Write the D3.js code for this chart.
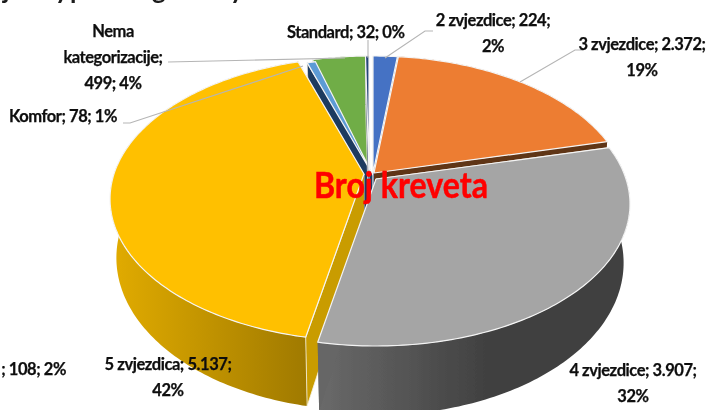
<!DOCTYPE html>
<html>
<head>
<meta charset="utf-8">
<style>
  html, body { margin: 0; padding: 0; background: #fff; overflow: hidden; }
  text { font-family: Lato, "Open Sans", sans-serif; font-weight: 700; }
</style>
<script src="https://cdn.jsdelivr.net/npm/d3@7"></script>
</head>
<body>
<div id="container"></div>
<script>
// data (pie order, clockwise from the top)
let categories = ["2 zvjezdice", "3 zvjezdice", "4 zvjezdice", "5 zvjezdica", "Komfor", "Nema kategorizacije", "Standard"];
let beds = [224, 2372, 3907, 5137, 78, 499, 32];
let chartTitle = "Broj kreveta";

// data label text, one entry per line
let labelLines = [
  ["2 zvjezdice; 224;", "2%"],
  ["3 zvjezdice; 2.372;", "19%"],
  ["4 zvjezdice; 3.907;", "32%"],
  ["5 zvjezdica; 5.137;", "42%"],
  ["Komfor; 78; 1%"],
  ["Nema", "kategorizacije;", "499; 4%"],
  ["Standard; 32; 0%"]
];
// leftover label in the picture, cut by the left edge, belongs to no slice
let orphanLabel = "; 108; 2%";
// pieces of the cropped heading, only the descenders show
let headingGlyphs = ["j", "y", "p", "g", "y"];

// styling, separate from the values
let topColors = ["#4472c4", "#ed7d31", "#a5a5a5", "#ffc000", "#5b9bd5", "#70ad47", "#264478"];
let startFace = ["#2f5597", "#b05a20", "#666666", "#c99c00", "#1f3a5f", "#4e7a30", "#1a2f55"];
let endFace = ["#2f5597", "#5f3416", "#666666", "#c99c00", "#1f3a5f", "#4e7a30", "#1a2f55"];
let sideColors = [
  ["#2f5597", "#2f5597"], ["#b05a20", "#8a4518"], ["#6a6a6a", "#404040"],
  ["#e2ac00", "#a07a00"], ["#1f3a5f", "#1f3a5f"], ["#4e7a30", "#4e7a30"], ["#1a2f55", "#1a2f55"]
];
let offsets = [[2, -2], [3, -2], [5, 4], [-7, -1], [2, 0], [-1, -2], [-2, -2]];
let drawOrder = [5, 4, 6, 0, 1, 3, 2];

// x, y, anchor of each label block, y is the first baseline
let labelPos = [
  [493, 26, "middle"], [642, 50, "middle"], [633, 376, "middle"], [168, 370, "middle"],
  [9, 122, "start"], [113, 37, "middle"], [287, 38, "start"]
];
let leaders = [
  [[433, 31], [425, 31], [385, 58]],
  [[582, 50], [575, 50], [520, 82]],
  [[123, 123], [130, 123], [303, 66]],
  [[168, 62], [345, 58]],
  [[368, 40], [368, 58]]
];
let glyphX = [3, 55, 70, 152, 230];

let w = 717;
let h = 410;
let cx = 371;
let cy = 175;
let tilt = 0.176; // far side of the pie gets smaller
let depth = 57;
let bottomShrink = 0.025; // bottom of the pie is a bit narrower than the top

let svg = d3.select("#container")
  .append("svg")
    .attr("width", w)
    .attr("height", h)
    .style("display", "block")
;

let defs = svg.append("defs");
defs.append("filter").attr("id", "soft")
  .append("feGaussianBlur").attr("stdDeviation", 0.5);

let xScale = d3.scaleLinear().domain([-1, 1]).range([-250, 250]);
let yScale = d3.scaleLinear().domain([-1, 1]).range([137.6, -137.6]);

// unit circle point -> screen, r = 0 is the apex, z = 1 is the bottom of the pie
function project(angle, r, z, off) {
  let X = r * Math.sin(angle);
  let Y = r * Math.cos(angle);
  let persp = 1 + tilt * Y;
  return [
    cx + off[0] + xScale(X) * (1 - z * bottomShrink) / persp,
    cy + off[1] + yScale(Y) / persp + z * depth / persp
  ];
}

let pie = d3.pie().sort(null).value(function (d) { return d; });
let slices = pie(beds);
let line = d3.line();

function rim(d, z, off) {
  let n = Math.max(2, Math.ceil((d.endAngle - d.startAngle) * 60));
  return d3.range(n + 1).map(function (i) {
    return project(d.startAngle + (d.endAngle - d.startAngle) * i / n, 1, z, off);
  });
}

let chart = svg.append("g").attr("filter", "url(#soft)");

drawOrder.forEach(function (i) {
  let d = slices[i];
  let off = offsets[i];
  let g = chart.append("g").attr("class", "slice");

  let top = rim(d, 0, off);
  let bottom = rim(d, 1, off);
  let gradId = "side" + i;
  let grad = defs.append("linearGradient")
    .attr("id", gradId)
    .attr("gradientUnits", "userSpaceOnUse")
    .attr("x1", d3.min(top, function (p) { return p[0]; }))
    .attr("x2", d3.max(top, function (p) { return p[0]; }))
    .attr("y1", 0).attr("y2", 0);
  grad.append("stop").attr("offset", 0).attr("stop-color", sideColors[i][0]);
  grad.append("stop").attr("offset", i === 2 ? 0.55 : 1).attr("stop-color", sideColors[i][1]);

  // outer wall
  g.append("path")
    .attr("d", line(top.concat(bottom.slice().reverse())) + "Z")
    .attr("fill", "url(#" + gradId + ")");

  // cut faces
  let apexTop = project(0, 0, 0, off);
  let apexBottom = project(0, 0, 1, off);
  g.append("path")
    .attr("d", line([apexTop, top[0], bottom[0], apexBottom]) + "Z")
    .attr("fill", startFace[i])
    .attr("stroke", "#f4f1e4").attr("stroke-width", 0.8);
  g.append("path")
    .attr("d", line([apexTop, top[top.length - 1], bottom[bottom.length - 1], apexBottom]) + "Z")
    .attr("fill", endFace[i]);

  // top face
  g.append("path")
    .attr("d", line([apexTop].concat(top)) + "Z")
    .attr("fill", topColors[i])
    .attr("stroke", "#f4f4f4")
    .attr("stroke-width", 1.2)
    .attr("stroke-linejoin", "round");
});

// leader lines
chart.selectAll(".leader").data(leaders).enter()
  .append("path")
    .attr("class", "leader")
    .attr("d", function (d) { return line(d); })
    .attr("fill", "none")
    .attr("stroke", "#b5b5b5")
    .attr("stroke-width", 1.1)
;

// data labels, Lato is wider than the original font so it is pulled in a bit
let labels = chart.selectAll(".label").data(labelLines).enter()
  .append("text")
    .attr("class", "label")
    .attr("font-size", 16.5)
    .attr("letter-spacing", -0.45)
    .attr("fill", "#0d0d0d")
    .attr("stroke", "#0d0d0d")
    .attr("stroke-width", 0.25)
    .attr("text-anchor", function (d, i) { return labelPos[i][2]; })
;
labels.selectAll("tspan").data(function (d, i) {
    return d.map(function (t, k) { return { t: t, k: k, i: i }; });
  }).enter()
  .append("tspan")
    .attr("x", function (d) { return labelPos[d.i][0]; })
    .attr("y", function (d) { return labelPos[d.i][1] + d.k * 26; })
    .text(function (d) { return d.t; })
;

chart.append("text")
  .attr("x", 66).attr("y", 375)
  .attr("text-anchor", "end")
  .attr("font-size", 16.5)
  .attr("letter-spacing", -0.45)
  .attr("fill", "#0d0d0d")
  .attr("stroke", "#0d0d0d")
  .attr("stroke-width", 0.25)
  .text(orphanLabel);

// cropped heading at the very top
chart.selectAll(".headGlyph").data(headingGlyphs).enter()
  .append("text")
    .attr("class", "headGlyph")
    .attr("x", function (d, i) { return glyphX[i]; })
    .attr("y", -1)
    .attr("font-size", 26)
    .attr("fill", "#1a1a1a")
    .text(function (d) { return d; })
;

// red title over the pie
chart.append("text")
  .attr("x", 314).attr("y", 198)
  .attr("font-size", 36)
  .attr("fill", "#ff0000")
  .attr("stroke", "#ff0000")
  .attr("stroke-width", 0.5)
  .attr("textLength", 174)
  .attr("lengthAdjust", "spacingAndGlyphs")
  .text(chartTitle);
</script>
</body>
</html>
